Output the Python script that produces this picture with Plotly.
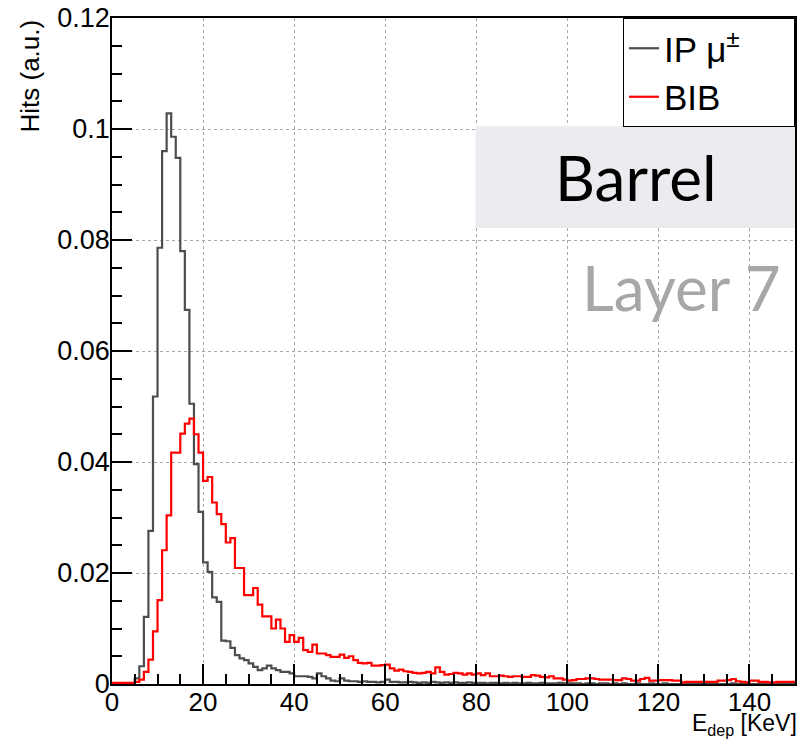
import numpy as np
import plotly.graph_objects as go

# ---------------- data ----------------
bin_edges = list(range(0, 151))  # 1 KeV bins, 0..150

ip_mu = [
    0, 0, 0, 0, 0, 0.0010, 0.0032, 0.0121, 0.0276, 0.0518,
    0.0786, 0.0960, 0.1028, 0.0986, 0.0948, 0.0780, 0.0674, 0.0505, 0.0396, 0.0310,
    0.0219, 0.0202, 0.0156, 0.0148, 0.0078, 0.0077, 0.0065, 0.0052, 0.0046, 0.0043,
    0.0037, 0.0031, 0.0025, 0.0028, 0.0033, 0.0028, 0.0025, 0.0022, 0.0022, 0.0019,
    0.0014, 0.0014, 0.0014, 0.0013, 0.0010, 0.0019, 0.0014, 0.0010, 0.0006, 0.0005,
    0.0010, 0.0006, 0.0005, 0.0005, 0.0004, 0.0005, 0.0004, 0.0004, 0.0003, 0.0004,
    0.0008, 0.0004, 0.0004, 0.0003, 0.0003, 0.0004, 0.0003, 0.0002, 0.0003, 0.0002,
    0.0004, 0.0003, 0.0002, 0.0003, 0.0002, 0.0003, 0.0002, 0.0002, 0.0003, 0.0002,
    0.0002, 0.0002, 0.0001, 0.0002, 0.0002, 0.0001, 0.0002, 0.0001, 0.0002, 0.0001,
    0.0001, 0.0002, 0.0001, 0.0001, 0.0002, 0.0001, 0.0001, 0.0001, 0.0002, 0.0001,
    0.0001, 0.0001, 0.0001, 0.0000, 0.0001, 0.0001, 0.0000, 0.0001, 0.0001, 0.0000,
    0.0001, 0.0000, 0.0001, 0.0000, 0.0000, 0.0001, 0.0000, 0.0000, 0.0001, 0.0000,
    0.0000, 0.0001, 0.0000, 0.0000, 0.0000, 0.0001, 0.0000, 0.0000, 0.0000, 0.0000,
    0.0001, 0.0000, 0.0000, 0.0000, 0.0000, 0.0000, 0.0001, 0.0000, 0.0000, 0.0000,
    0.0000, 0.0000, 0.0000, 0.0000, 0.0000, 0.0000, 0.0000, 0.0000, 0.0000, 0.0000,
]

bib = [
    0.0002, 0.0002, 0.0002, 0.0002, 0.0002, 0.0004, 0.0008, 0.0022, 0.0044, 0.0095,
    0.0151, 0.0241, 0.0304, 0.0417, 0.0417, 0.0451, 0.0469, 0.0478, 0.0450, 0.0417,
    0.0366, 0.0373, 0.0327, 0.0306, 0.0288, 0.0255, 0.0263, 0.0209, 0.0209, 0.0160,
    0.0160, 0.0173, 0.0143, 0.0122, 0.0122, 0.0100, 0.0116, 0.0100, 0.0076, 0.0088,
    0.0076, 0.0083, 0.0061, 0.0058, 0.0071, 0.0055, 0.0055, 0.0052, 0.0049, 0.0049,
    0.0053, 0.0047, 0.0050, 0.0043, 0.0038, 0.0037, 0.0038, 0.0033, 0.0033, 0.0034,
    0.0035, 0.0028, 0.0024, 0.0026, 0.0023, 0.0022, 0.0020, 0.0019, 0.0020, 0.0022,
    0.0019, 0.0030, 0.0022, 0.0017, 0.0018, 0.0020, 0.0019, 0.0017, 0.0019, 0.0017,
    0.0019, 0.0016, 0.0019, 0.0014, 0.0014, 0.0015, 0.0014, 0.0013, 0.0014, 0.0014,
    0.0013, 0.0013, 0.0016, 0.0015, 0.0013, 0.0012, 0.0014, 0.0010, 0.0010, 0.0008,
    0.0006, 0.0007, 0.0009, 0.0009, 0.0010, 0.0010, 0.0009, 0.0008, 0.0008, 0.0008,
    0.0007, 0.0007, 0.0010, 0.0009, 0.0006, 0.0006, 0.0009, 0.0011, 0.0006, 0.0006,
    0.0007, 0.0007, 0.0007, 0.0006, 0.0006, 0.0003, 0.0004, 0.0004, 0.0004, 0.0004,
    0.0004, 0.0004, 0.0004, 0.0006, 0.0006, 0.0007, 0.0009, 0.0005, 0.0004, 0.0003,
    0.0006, 0.0006, 0.0004, 0.0004, 0.0003, 0.0003, 0.0004, 0.0004, 0.0004, 0.0004,
]

series_names = ["IP \u03bc<sup>\u00b1</sup>", "BIB"]
x_ticks = [0, 20, 40, 60, 80, 100, 120, 140]
y_ticks = [0, 0.02, 0.04, 0.06, 0.08, 0.1, 0.12]
y_ticktext = ["0", "0.02", "0.04", "0.06", "0.08", "0.1", "0.12"]

# ---------------- figure ----------------
FONT = "Liberation Sans, Arial, Helvetica, sans-serif"
GRAY = "#4d4d4d"
RED = "#ff0000"
PAD = "\u00a0" * 5  # widens the legend box like the reference

def step_y(vals):
    return list(vals) + [vals[-1]]

fig = go.Figure()
fig.add_trace(go.Scatter(
    x=bin_edges, y=step_y(ip_mu), mode="lines", line_shape="hv",
    line=dict(color=GRAY, width=2.2), name=series_names[0] + PAD))
fig.add_trace(go.Scatter(
    x=bin_edges, y=step_y(bib), mode="lines", line_shape="hv",
    line=dict(color=RED, width=2.2), name=series_names[1] + PAD))

axis_common = dict(
    showline=True, linecolor="black", linewidth=1.5, mirror=True,
    ticks="inside", ticklen=20, tickwidth=1.5, tickcolor="black",
    showgrid=True, gridcolor="#a8a8a8", griddash="dot", gridwidth=1,
    zeroline=False,
)

fig.update_xaxes(
    range=[0, 150], tickvals=x_ticks, ticklabelstandoff=-6,
    tickfont=dict(family=FONT, size=26, color="black"),
    minor=dict(ticks="inside", ticklen=10, tickwidth=1.5, tickcolor="black",
               dtick=5, tick0=0, showgrid=False),
    **axis_common)
fig.update_yaxes(
    range=[0, 0.12], tickvals=y_ticks, ticktext=y_ticktext, ticklabelstandoff=-5,
    tickfont=dict(family=FONT, size=27, color="black"),
    minor=dict(ticks="inside", ticklen=10, tickwidth=1.5, tickcolor="black",
               dtick=0.005, tick0=0, showgrid=False),
    **axis_common)

fig.add_shape(type="rect", xref="paper", yref="paper",
              x0=0.532, x1=1.0, y0=0.6847, y1=0.8378,
              fillcolor="#ebecef", line=dict(width=0), layer="above")

fig.add_annotation(text="Barrel", xref="paper", yref="paper",
                   x=0.767, y=0.761, xanchor="center", yanchor="middle",
                   showarrow=False, font=dict(family="Lato", size=62, color="black"))
fig.add_annotation(text="Layer 7", xref="paper", yref="paper",
                   x=0.834, y=0.596, xanchor="center", yanchor="middle",
                   showarrow=False, font=dict(family="Lato", size=62, color="#a5a8a7"))

fig.add_annotation(text="Hits (a.u.)", xref="paper", yref="paper",
                   x=0, y=1, xshift=-83, xanchor="center", yanchor="top",
                   textangle=-90, showarrow=False,
                   font=dict(family=FONT, size=26, color="black"))
fig.add_annotation(text="E<sub>dep</sub> [KeV]", xref="paper", yref="paper",
                   x=1, y=0, xshift=4, yshift=-24, xanchor="right", yanchor="top",
                   showarrow=False,
                   font=dict(family=FONT, size=23, color="black"))

fig.update_layout(
    width=799, height=745,
    margin=dict(l=112, r=2, t=18, b=61),
    paper_bgcolor="white", plot_bgcolor="white",
    showlegend=True,
    legend=dict(x=1, y=1, xanchor="right", yanchor="top",
                bgcolor="white", bordercolor="black", borderwidth=1,
                font=dict(family=FONT, size=35, color="black"),
                itemwidth=30, tracegroupgap=0),
)

# remove the default 8px page margin so the figure sits at the window's corner
fig.write_html("out.html",
               config={"displayModeBar": False},
               post_script="document.body.style.margin='0';")
